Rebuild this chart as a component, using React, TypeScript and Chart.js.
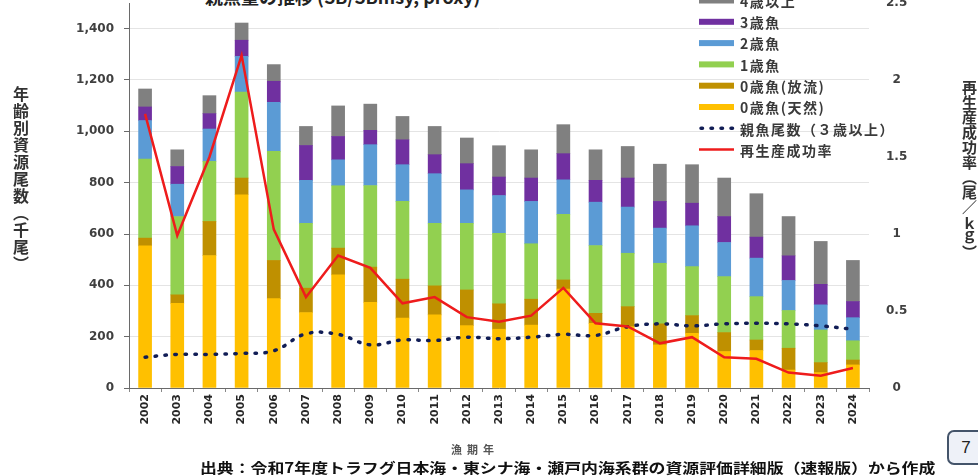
import React, { useEffect, useRef } from "react";
import { Chart, registerables } from "chart.js";

Chart.register(...registerables);

// ---- data (thousand fish / recruits per kg) ----
const years = [
  "2002", "2003", "2004", "2005", "2006", "2007", "2008", "2009", "2010", "2011", "2012", "2013",
  "2014", "2015", "2016", "2017", "2018", "2019", "2020", "2021", "2022", "2023", "2024",
];
const age0Wild = [554, 330, 516, 753, 348, 294, 441, 334, 272, 285, 243, 229, 245, 385, 252, 239, 168, 213, 142, 146, 70, 60, 90];
const age0Released = [30, 33, 133, 65, 149, 95, 104, 137, 152, 113, 139, 99, 101, 36, 39, 78, 82, 69, 74, 41, 85, 39, 19];
const age1 = [308, 305, 234, 335, 425, 253, 243, 318, 303, 244, 260, 275, 216, 256, 264, 208, 236, 191, 218, 169, 147, 127, 75];
const age2 = [150, 126, 126, 139, 191, 167, 101, 159, 143, 193, 130, 147, 165, 134, 169, 180, 137, 159, 133, 150, 117, 98, 90];
const age3 = [53, 69, 60, 63, 82, 136, 91, 56, 97, 74, 102, 72, 91, 102, 85, 113, 104, 88, 101, 82, 96, 80, 63];
const age4plus = [70, 65, 70, 67, 65, 74, 119, 102, 91, 110, 100, 122, 110, 113, 119, 123, 145, 150, 150, 169, 153, 167, 160];
const spawners = [120, 131, 131, 135, 145, 211, 209, 168, 187, 185, 198, 192, 198, 209, 205, 239, 250, 242, 250, 252, 250, 242, 229];
const rps = [1.78, 0.99, 1.5, 2.16, 1.03, 0.59, 0.86, 0.78, 0.55, 0.59, 0.46, 0.43, 0.47, 0.65, 0.42, 0.4, 0.29, 0.33, 0.2, 0.19, 0.1, 0.08, 0.13];

const leftMax = 1500;
const leftStep = 200;
const rightMax = 2.5;
const rightStep = 0.5;

const labels = {
  wild: "0歳魚(天然)",
  released: "0歳魚(放流)",
  a1: "1歳魚",
  a2: "2歳魚",
  a3: "3歳魚",
  a4: "4歳以上",
  spawn: "親魚尾数（３歳以上）",
  rps: "再生産成功率",
};

const legendOrder = [5, 4, 3, 2, 1, 0, 6, 7];

const insideLegend = {
  id: "insideLegend",
  afterDraw(chart: any) {
    const ctx = chart.ctx as CanvasRenderingContext2D;
    const area = chart.chartArea;
    const x0 = area.right - 170;
    const sw = 35;
    const textX = x0 + 41;
    const y0 = 0.5;
    const pitch = 21.3;
    ctx.save();
    legendOrder.forEach((di, i) => {
      const ds = chart.data.datasets[di];
      const y = y0 + i * pitch;
      if (ds.type === "line") {
        ctx.strokeStyle = ds.borderColor;
        ctx.lineWidth = ds.borderWidth;
        ctx.setLineDash(ds.borderDash || []);
        ctx.lineCap = ds.borderCapStyle || "butt";
        ctx.beginPath();
        ctx.moveTo(x0 + (ds.borderDash ? 2 : 0), y);
        ctx.lineTo(x0 + sw, y);
        ctx.stroke();
        ctx.setLineDash([]);
        ctx.lineCap = "butt";
      } else {
        ctx.fillStyle = ds.backgroundColor;
        ctx.fillRect(x0, y - 3, sw, 6);
      }
      ctx.fillStyle = "#3a3a3a";
      ctx.font = 'bold 14px "Noto Sans CJK JP"';
      (ctx as any).letterSpacing = "1.5px";
      ctx.textBaseline = "middle";
      ctx.textAlign = "left";
      ctx.fillText(ds.label, textX, y + 1);
      (ctx as any).letterSpacing = "0px";
    });
    ctx.restore();
  },
};

export default function App() {
  const ref = useRef<HTMLCanvasElement | null>(null);

  useEffect(() => {
    if (!ref.current) return;
    const tickFont = { family: "DejaVu Sans", size: 12, weight: "bold" as const };
    const barCommon = { type: "bar" as const, stack: "age", yAxisID: "y", order: 2, barThickness: 13 };
    const chart = new Chart(ref.current, {
      type: "bar",
      data: {
        labels: years,
        datasets: [
          { ...barCommon, label: labels.wild, data: age0Wild, backgroundColor: "#ffc000" },
          { ...barCommon, label: labels.released, data: age0Released, backgroundColor: "#bf9000" },
          { ...barCommon, label: labels.a1, data: age1, backgroundColor: "#92d050" },
          { ...barCommon, label: labels.a2, data: age2, backgroundColor: "#5b9bd5" },
          { ...barCommon, label: labels.a3, data: age3, backgroundColor: "#7030a0" },
          { ...barCommon, label: labels.a4, data: age4plus, backgroundColor: "#808080" },
          {
            type: "line",
            label: labels.spawn,
            data: spawners,
            borderColor: "#111d55",
            borderWidth: 3.5,
            borderDash: [1.5, 8.5],
            borderCapStyle: "round",
            pointRadius: 0,
            tension: 0.4,
            fill: false,
            yAxisID: "y",
            stack: "parent",
            order: 1,
          } as any,
          {
            type: "line",
            label: labels.rps,
            data: rps,
            borderColor: "#ee1c1c",
            borderWidth: 2.5,
            pointRadius: 0,
            tension: 0,
            fill: false,
            yAxisID: "y2",
            order: 0,
          } as any,
        ],
      },
      options: {
        responsive: false,
        animation: false,
        events: [],
        layout: { padding: { left: 40, right: 0, top: 3, bottom: 43 } },
        plugins: { legend: { display: false }, tooltip: { enabled: false }, title: { display: false } },
        scales: {
          x: {
            stacked: true,
            offset: true,
            grid: { offset: true, drawOnChartArea: false, drawTicks: true, tickLength: 4, tickColor: "#888" },
            border: { display: true, color: "#6a6a6a", width: 1 },
            ticks: {
              autoSkip: false,
              minRotation: 90,
              maxRotation: 90,
              padding: 2,
              color: "#262626",
              font: { family: "DejaVu Sans", size: 11, weight: "bold" },
            },
            afterFit: (s: any) => {
              s.height = 45;
              s.paddingLeft = 0;
              s.paddingRight = 0;
            },
          },
          y: {
            type: "linear",
            position: "left",
            stacked: true,
            min: 0,
            max: leftMax,
            ticks: {
              stepSize: leftStep,
              includeBounds: false,
              padding: 10,
              color: "#404040",
              font: tickFont,
              callback: (v: any) => Number(v).toLocaleString("en-US"),
            },
            grid: { color: "#e4e4e4", lineWidth: 1, drawTicks: true, tickLength: 5, tickColor: "#6a6a6a" },
            border: { display: true, color: "#6a6a6a", width: 1 },
            afterFit: (s: any) => {
              s.width = 89;
              s.paddingTop = 0;
              s.paddingBottom = 0;
            },
          },
          y2: {
            type: "linear",
            position: "right",
            min: 0,
            max: rightMax,
            ticks: {
              stepSize: rightStep,
              crossAlign: "center",
              padding: 17,
              color: "#404040",
              font: tickFont,
              callback: (v: any) => String(Math.round(Number(v) * 10) / 10),
            },
            grid: { drawOnChartArea: false, drawTicks: false },
            border: { display: false },
            afterFit: (s: any) => {
              s.width = 109;
              s.paddingTop = 0;
              s.paddingBottom = 0;
            },
          },
        },
      } as any,
      plugins: [insideLegend],
    });
    return () => chart.destroy();
  }, []);

  const cjk = '"Noto Sans CJK JP", "Noto Sans", sans-serif';

  return (
    <div
      style={{
        position: "fixed",
        left: 0,
        top: 0,
        width: 978,
        height: 476,
        overflow: "hidden",
        background: "#ffffff",
      }}
    >
      <div
        style={{
          position: "absolute",
          left: 205,
          top: -13,
          fontFamily: cjk,
          fontWeight: 700,
          fontSize: 18,
          lineHeight: "18px",
          color: "#222",
          whiteSpace: "nowrap",
        }}
      >
        親魚量の推移 (SB/SBmsy, proxy)
      </div>
      <canvas ref={ref} width={978} height={476} style={{ position: "absolute", left: 0, top: 0 }} />
      <div
        style={{
          position: "absolute",
          left: 13,
          top: 86,
          writingMode: "vertical-rl",
          fontFamily: cjk,
          fontWeight: 700,
          fontSize: 16,
          lineHeight: "16px",
          letterSpacing: "1px",
          color: "#333",
          whiteSpace: "nowrap",
        }}
      >
        年齢別資源尾数（千尾）
      </div>
      <div
        style={{
          position: "absolute",
          left: 962,
          top: 80,
          writingMode: "vertical-rl",
          fontFamily: cjk,
          fontWeight: 700,
          fontSize: 15,
          lineHeight: "15px",
          letterSpacing: "0px",
          color: "#333",
          whiteSpace: "nowrap",
        }}
      >
        再生産成功率（尾／ｋｇ）
      </div>
      <div
        style={{
          position: "absolute",
          left: 451,
          top: 443,
          fontFamily: cjk,
          fontWeight: 700,
          fontSize: 11,
          lineHeight: "12px",
          letterSpacing: "5px",
          color: "#555",
          whiteSpace: "nowrap",
        }}
      >
        漁期年
      </div>
      <div
        style={{
          position: "absolute",
          left: 200,
          top: 460,
          fontFamily: cjk,
          fontWeight: 700,
          fontSize: 14,
          lineHeight: "15px",
          color: "#111",
          whiteSpace: "nowrap",
          transform: "scaleX(1.205)",
          transformOrigin: "left top",
        }}
      >
        出典：令和7年度トラフグ日本海・東シナ海・瀬戸内海系群の資源評価詳細版（速報版）から作成
      </div>
      <div
        style={{
          position: "absolute",
          left: 947,
          top: 430,
          width: 38,
          height: 35,
          boxSizing: "border-box",
          border: "2px solid #44546a",
          borderRadius: 7,
          background: "#eef1f8",
          display: "flex",
          alignItems: "center",
          justifyContent: "center",
          fontFamily: "Liberation Sans, sans-serif",
          fontSize: 17,
          color: "#222",
        }}
      >
        7
      </div>
    </div>
  );
}
